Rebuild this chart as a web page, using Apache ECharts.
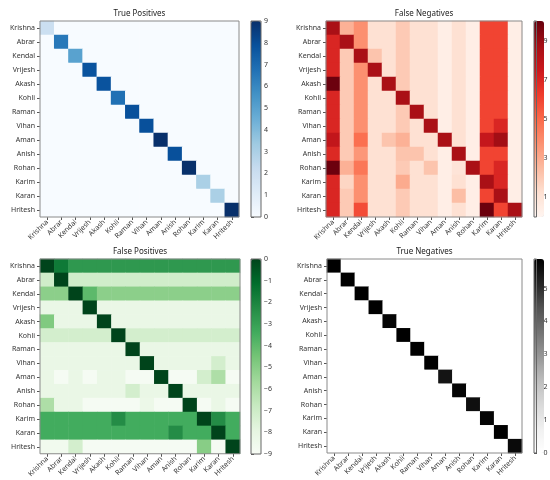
<!DOCTYPE html>
<html>
<head>
<meta charset="utf-8">
<script src="https://cdn.jsdelivr.net/npm/echarts@6/dist/echarts.min.js"></script>
<style>
  html, body { margin: 0; padding: 0; background: #fff; }
  #main { width: 550px; height: 480px; }
</style>
</head>
<body>
<div id="main"></div>
<script>
// class names (rows = true, cols = predicted)
var names = ['Krishna', 'Abrar', 'Kendal', 'Vrijesh', 'Akash', 'Kohli', 'Raman',
             'Vihan', 'Aman', 'Anish', 'Rohan', 'Karim', 'Karan', 'Hritesh'];

// true positives: only the diagonal is filled
var tpDiag = [2, 6.5, 5, 7.8, 7.8, 6.8, 7.9, 7.9, 9, 7.9, 9, 3, 3, 9];
// true negatives: only the diagonal is filled
var tnDiag = [5.9, 5.9, 5.9, 5.9, 5.8, 5.9, 5.9, 5.9, 5.5, 5.8, 5.6, 5.8, 5.9, 5.7];

// false negatives, one row per class
var fnRows = [
  [8.6, 2.8, 3.8, 1.2, 1.2, 2, 1.2, 1.2, 0.4, 1.2, 0.4, 6, 6, 0.4],
  [7, 8.6, 3.8, 1.2, 1.2, 2, 1.2, 1.2, 0.4, 1.2, 0.4, 6, 6, 0.4],
  [7, 2, 8.6, 2.2, 1.2, 2, 1.2, 1.2, 0.4, 1.2, 0.4, 6, 6, 0.4],
  [7, 2, 3.8, 8.6, 1.2, 2, 1.2, 1.2, 0.4, 1.2, 0.4, 6, 6, 0.4],
  [9.9, 2, 3.8, 1.2, 8.6, 2, 1.2, 1.2, 0.4, 1.2, 0.4, 6, 6, 0.4],
  [7, 2, 3.8, 1.2, 1.2, 8.6, 1.2, 1.2, 0.4, 1.2, 0.4, 6, 6, 0.4],
  [7, 2, 3.8, 1.2, 1.2, 2, 8.6, 1.2, 0.4, 1.2, 0.4, 6, 6, 0.4],
  [7, 2, 3.8, 1.2, 1.2, 2, 1.2, 8.6, 0.4, 1.2, 0.4, 6, 7, 0.4],
  [7.8, 2, 4.8, 1.2, 2.2, 2.8, 1.2, 1.2, 8.6, 1.2, 0.4, 7.7, 8.8, 0.4],
  [6.9, 2, 3.6, 1.2, 1.2, 2.2, 2.2, 1.2, 0.4, 8.6, 0.4, 6, 6, 0.4],
  [9.9, 2.8, 4.6, 1.2, 1.2, 2, 1.2, 2.2, 0.4, 1, 8.6, 6, 7, 0.4],
  [7, 1.6, 3.8, 1.2, 1.2, 3, 1.2, 1.2, 0.4, 1.2, 0.4, 8.6, 7, 0.4],
  [7, 2, 3.8, 1.2, 1.2, 2, 1.2, 1.2, 0.4, 2.4, 0.4, 6, 8.6, 0.4],
  [7, 2, 5.8, 1.2, 1.2, 2, 1.2, 1.2, 0.4, 1.2, 0.4, 9.9, 6, 8.6]
];

// false positives (negative counts), one row per class
var fpRows = [
  [0, -1.6, -2.7, -2.7, -2.7, -2.7, -2.7, -2.7, -2.7, -2.7, -2.7, -2.7, -2.7, -2.7],
  [-7.1, 0, -7.1, -7.1, -7.1, -7.1, -7.1, -7.1, -7.1, -7.1, -7.1, -7.1, -7.1, -7.1],
  [-5.1, -5.1, 0, -4.0, -5.1, -5.1, -5.1, -5.1, -5.1, -5.1, -5.1, -5.1, -5.1, -5.1],
  [-8.2, -8.2, -8.2, 0, -8.2, -8.2, -8.2, -8.2, -8.2, -8.2, -8.2, -8.2, -8.2, -8.2],
  [-4.8, -8.2, -8.2, -8.2, 0, -8.2, -8.2, -8.2, -8.2, -8.2, -8.2, -8.2, -8.2, -8.2],
  [-7.2, -7.2, -7.2, -7.2, -7.2, 0, -7.2, -7.2, -7.2, -7.2, -7.2, -7.2, -7.2, -7.2],
  [-8.2, -8.2, -8.2, -8.2, -8.2, -8.2, 0, -8.2, -8.2, -8.2, -8.2, -8.2, -8.2, -8.2],
  [-8.2, -8.2, -8.2, -8.2, -8.2, -8.2, -8.2, 0, -8.2, -8.2, -8.2, -8.2, -7.2, -8.2],
  [-8.2, -8.9, -8.2, -8.9, -8.2, -8.2, -8.9, -8.9, 0, -8.9, -8.9, -7.2, -6.0, -8.9],
  [-8.2, -8.2, -8.2, -8.2, -8.2, -8.2, -7.2, -8.2, -8.2, 0, -8.2, -8.2, -8.2, -8.2],
  [-6.0, -8.2, -8.2, -8.9, -8.9, -8.9, -8.9, -8.3, -8.9, -8.9, 0, -8.9, -8.2, -8.9],
  [-3.4, -3.4, -3.4, -3.4, -3.4, -2.3, -3.4, -3.4, -3.4, -3.4, -3.4, 0, -2.3, -3.4],
  [-3.4, -3.4, -3.4, -3.4, -3.4, -3.4, -3.4, -3.4, -3.4, -2.3, -3.4, -3.4, 0, -3.4],
  [-8.6, -8.6, -7.2, -8.9, -8.9, -8.9, -8.9, -8.9, -8.9, -8.9, -8.9, -5.0, -8.9, 0]
];

// colorbar ticks
var tpTicks = [0, 1, 2, 3, 4, 5, 6, 7, 8, 9];
var fnTicks = [1, 3, 5, 7, 9];
var fpTicks = [-9, -8, -7, -6, -5, -4, -3, -2, -1, 0];
var tnTicks = [0, 1, 2, 3, 4, 5];

// matplotlib colormaps
var Blues  = ['#f7fbff', '#deebf7', '#c6dbef', '#9ecae1', '#6baed6', '#4292c6', '#2171b5', '#08519c', '#08306b'];
var Reds   = ['#fff5f0', '#fee0d2', '#fcbba1', '#fc9272', '#fb6a4a', '#ef3b2c', '#cb181d', '#a50f15', '#67000d'];
var Greens = ['#f7fcf5', '#e5f5e0', '#c7e9c0', '#a1d99b', '#74c476', '#41ab5d', '#238b45', '#006d2c', '#00441b'];
var Greys  = ['#ffffff', '#f0f0f0', '#d9d9d9', '#bdbdbd', '#969696', '#737373', '#525252', '#252525', '#000000'];

function fromDiag(d) {
  var out = [];
  for (var i = 0; i < names.length; i++)
    for (var j = 0; j < names.length; j++)
      out.push([j, i, i === j ? d[i] : 0]);
  return out;
}
function fromRows(rows) {
  var out = [];
  for (var i = 0; i < rows.length; i++)
    for (var j = 0; j < rows[i].length; j++)
      out.push([j, i, rows[i][j]]);
  return out;
}

var FONT = '"Noto Sans", sans-serif';
// box = heatmap [left, top, w, h], bar = colorbar [left, top, w, h]
var panels = [
  {title: 'True Positives',  box: [40, 21, 199, 196],  bar: [251, 21, 10, 196],  data: fromDiag(tpDiag), cmap: Blues,  min: 0,  max: 9,   ticks: tpTicks, lm: 3},
  {title: 'False Negatives', box: [326, 21, 196, 196], bar: [534, 21, 10, 196],  data: fromRows(fnRows), cmap: Reds,   min: 0,  max: 10,  ticks: fnTicks, lm: 7},
  {title: 'False Positives', box: [40, 259, 200, 195], bar: [251, 259, 10, 195], data: fromRows(fpRows), cmap: Greens, min: -9, max: 0,   ticks: fpTicks, lm: 3},
  {title: 'True Negatives',  box: [327, 259, 195, 194], bar: [534, 259, 10, 194], data: fromDiag(tnDiag), cmap: Greys,  min: 0,  max: 5.9, ticks: tnTicks, lm: 7}
];

var grid = [], xAxis = [], yAxis = [], series = [], visualMap = [], graphic = [];

panels.forEach(function (p, k) {
  var gi = grid.length;
  // heatmap area
  grid.push({left: p.box[0], top: p.box[1], width: p.box[2], height: p.box[3],
    show: true, borderColor: '#8a8a8a', borderWidth: 1, backgroundColor: 'transparent', z: 5});
  xAxis.push({type: 'category', gridIndex: gi, data: names,
    axisLine: {show: false},
    axisTick: {show: true, alignWithLabel: true, length: 3, lineStyle: {color: '#555'}},
    axisLabel: {rotate: 45, fontSize: 7, color: '#333', fontFamily: FONT, margin: 4, interval: 0},
    splitLine: {show: false}});
  yAxis.push({type: 'category', gridIndex: gi, data: names, inverse: true,
    axisLine: {show: false},
    axisTick: {show: true, alignWithLabel: true, length: 3, lineStyle: {color: '#555'}},
    axisLabel: {fontSize: 7, color: '#333', fontFamily: FONT, margin: 5, interval: 0},
    splitLine: {show: false}});
  series.push({type: 'heatmap', xAxisIndex: gi, yAxisIndex: gi, data: p.data,
    itemStyle: {borderWidth: 0}, emphasis: {disabled: true}, progressive: 0, animation: false});
  visualMap.push({type: 'continuous', seriesIndex: k, dimension: 2, min: p.min, max: p.max,
    inRange: {color: p.cmap}, left: p.bar[0], top: p.bar[1], itemWidth: p.bar[2], itemHeight: p.bar[3],
    padding: 0, calculable: false, hoverLink: false, text: null, showLabel: false});

  // colorbar frame and ticks
  var ci = grid.length;
  grid.push({left: p.bar[0], top: p.bar[1], width: p.bar[2], height: p.bar[3],
    show: true, borderColor: '#666', borderWidth: 1, backgroundColor: 'transparent', z: 6});
  xAxis.push({type: 'value', gridIndex: ci, show: false, min: 0, max: 1});
  yAxis.push({type: 'value', gridIndex: ci, position: 'right', min: p.min, max: p.max,
    axisLine: {show: false}, splitLine: {show: false},
    axisTick: {show: true, length: 3, lineStyle: {color: '#555'}, customValues: p.ticks},
    axisLabel: {fontSize: 7, color: '#333', fontFamily: FONT, margin: p.lm, customValues: p.ticks,
      showMinLabel: true, showMaxLabel: true,
      formatter: function (v) { return String(v).replace('-', '\u2212'); }}});

  graphic.push({type: 'text', x: p.box[0] + p.box[2] / 2, y: p.box[1] - 11,
    style: {text: p.title, font: '8px ' + FONT, fill: '#222', textAlign: 'center', textVerticalAlign: 'top'}});
});

var chart = echarts.init(document.getElementById('main'), null, {renderer: 'canvas'});
chart.setOption({
  animation: false,
  backgroundColor: '#fff',
  grid: grid,
  xAxis: xAxis,
  yAxis: yAxis,
  visualMap: visualMap,
  series: series,
  graphic: graphic
});
</script>
</body>
</html>
